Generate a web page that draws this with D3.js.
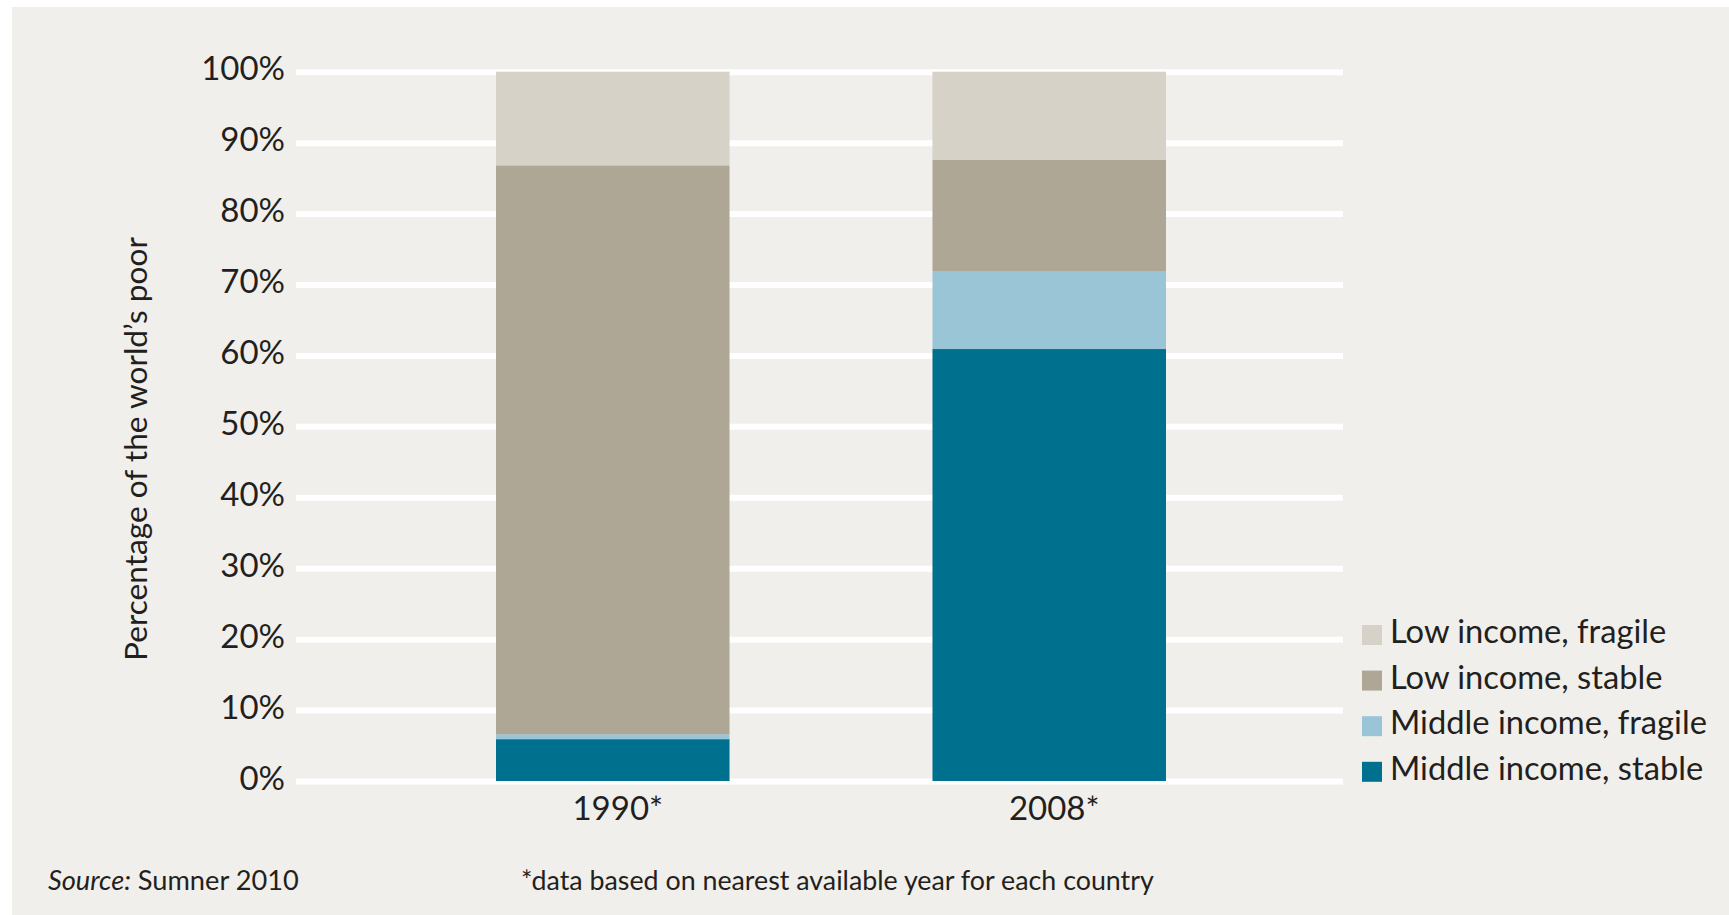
<!DOCTYPE html>
<html>
<head>
<meta charset="utf-8">
<script src="https://cdn.jsdelivr.net/npm/d3@7"></script>
<style>
  html, body { margin: 0; padding: 0; background: #ffffff; }
  svg { display: block; }
  text { font-family: Lato, "Noto Sans", sans-serif; fill: #231f20; }
</style>
</head>
<body>
<svg id="chart" width="1729" height="915"></svg>
<script>
// Share of the world's poor by country group
const categories = ["1990*", "2008*"];
const seriesNames = ["Middle income, stable", "Middle income, fragile", "Low income, stable", "Low income, fragile"];
const middleStable = [5.9, 60.9];
const middleFragile = [0.7, 11.0];
const lowStable = [80.2, 15.7];
const lowFragile = [13.2, 12.4];
const yTicks = [0, 10, 20, 30, 40, 50, 60, 70, 80, 90, 100];
const seriesColors = ["#00708f", "#99c5d7", "#aea796", "#d6d2c7"];

const rows = categories.map((c, i) => ({
  category: c,
  [seriesNames[0]]: middleStable[i],
  [seriesNames[1]]: middleFragile[i],
  [seriesNames[2]]: lowStable[i],
  [seriesNames[3]]: lowFragile[i]
}));

const svg = d3.select("#chart");
const W = 1729, H = 915;

// panel background
svg.append("rect")
  .attr("x", 12).attr("y", 7)
  .attr("width", W - 12).attr("height", H - 7)
  .attr("fill", "#f1efeb");

const gridLeft = 296, gridRight = 1343;
const y = d3.scaleLinear().domain([0, 100]).range([781, 71.7]);
const x = d3.scaleBand().domain(categories).range([496, 1166]).paddingInner(0.465).paddingOuter(0);
const color = d3.scaleOrdinal().domain(seriesNames).range(seriesColors);

// y axis with white gridlines
const yAxis = d3.axisLeft(y)
  .tickValues(yTicks)
  .tickFormat(d => d + "%")
  .tickSizeInner(-(gridRight - gridLeft))
  .tickSizeOuter(0)
  .tickPadding(11);

const gy = svg.append("g")
  .attr("transform", `translate(${gridLeft},0)`)
  .call(yAxis);
gy.select(".domain").remove();
gy.selectAll(".tick line").attr("stroke", "#ffffff").attr("stroke-width", 6);
gy.selectAll(".tick text")
  .attr("font-size", 33)
  .attr("dy", "0.25em")
  .attr("fill", "#231f20");

// stacked bars
const stacked = d3.stack().keys(seriesNames)(rows);
svg.append("g")
  .selectAll("g")
  .data(stacked)
  .join("g")
  .attr("fill", d => color(d.key))
  .selectAll("rect")
  .data(d => d)
  .join("rect")
  .attr("x", d => x(d.data.category))
  .attr("width", x.bandwidth())
  .attr("y", d => y(d[1]))
  .attr("height", d => y(d[0]) - y(d[1]));

// category labels
const xAxis = d3.axisBottom(x).tickSize(0).tickPadding(0);
const gx = svg.append("g").attr("transform", "translate(5,820)").call(xAxis);
gx.select(".domain").remove();
gx.selectAll(".tick text")
  .attr("font-size", 33)
  .attr("dy", 0)
  .attr("y", 0)
  .attr("fill", "#231f20");

// y axis title
svg.append("text")
  .attr("transform", "translate(147,449) rotate(-90)")
  .attr("text-anchor", "middle")
  .attr("font-size", 31.6)
  .text("Percentage of the world\u2019s poor");

// legend (top-down: low fragile first)
const legendOrder = seriesNames.slice().reverse();
const lg = svg.append("g").attr("transform", "translate(1362,625)");
const items = lg.selectAll("g").data(legendOrder).join("g")
  .attr("transform", (d, i) => `translate(0,${i * 45.6})`);
items.append("rect").attr("width", 20).attr("height", 20).attr("fill", d => color(d));
items.append("text")
  .attr("x", 28).attr("y", 18)
  .attr("font-size", 32.7)
  .text(d => d);

// source and footnote
const src = svg.append("text").attr("x", 48).attr("y", 890).attr("font-size", 27.2).attr("fill", "#4d4d4f");
src.append("tspan").attr("font-style", "italic").text("Source:");
src.append("tspan").text(" Sumner 2010");

svg.append("text")
  .attr("x", 521).attr("y", 890)
  .attr("font-size", 26.8)
  .attr("fill", "#4d4d4f")
  .text("*data based on nearest available year for each country");
</script>
</body>
</html>
